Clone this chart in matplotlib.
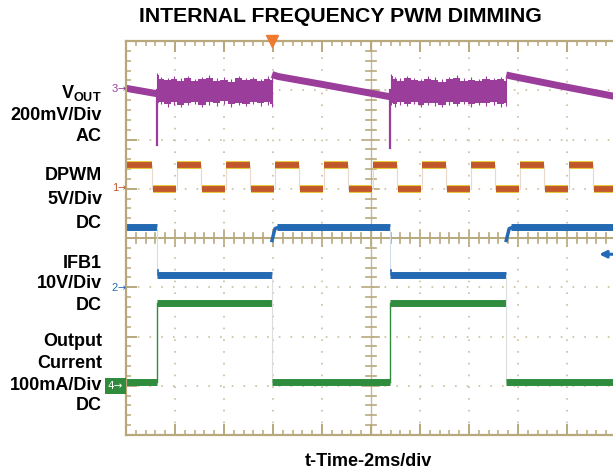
import matplotlib.pyplot as plt

plt.rcParams['font.family'] = ['Liberation Sans', 'DejaVu Sans']
plt.rcParams['mathtext.fontset'] = 'custom'
plt.rcParams['mathtext.rm'] = 'Liberation Sans'
plt.rcParams['mathtext.bf'] = 'Liberation Sans:bold'

# all values in scope divisions (x: 2 ms/div, y: channel div)
# VOUT (ch3), tail of previous decay, noisy on-bands, decays
vout_pre_x = [0.0, 0.63]
vout_pre_y = [3.04, 2.93]
vout_band1_x = [0.64, 0.72, 0.85, 0.98, 1.12, 1.26, 1.40, 1.55, 1.70, 1.85, 2.00, 2.15, 2.30, 2.45, 2.60, 2.75, 2.90, 2.98]
vout_band1_top = [3.30, 3.22, 3.20, 3.23, 3.19, 3.24, 3.18, 3.22, 3.25, 3.19, 3.21, 3.17, 3.24, 3.20, 3.22, 3.18, 3.23, 3.21]
vout_band1_bot = [2.74, 2.77, 2.72, 2.76, 2.70, 2.75, 2.77, 2.71, 2.76, 2.74, 2.78, 2.72, 2.75, 2.73, 2.77, 2.74, 2.76, 2.72]
vout_dip1 = [0.63, 1.88]
vout_decay1_x = [2.98, 3.10, 4.00, 5.38]
vout_decay1_y = [3.32, 3.28, 3.12, 2.87]
vout_band2_x = [5.40, 5.48, 5.60, 5.74, 5.88, 6.02, 6.16, 6.30, 6.45, 6.60, 6.75, 6.90, 7.05, 7.20, 7.35, 7.50, 7.65, 7.76]
vout_band2_top = [3.28, 3.22, 3.19, 3.24, 3.20, 3.18, 3.23, 3.21, 3.17, 3.22, 3.25, 3.19, 3.21, 3.18, 3.23, 3.20, 3.22, 3.19]
vout_band2_bot = [2.75, 2.72, 2.76, 2.73, 2.77, 2.71, 2.75, 2.74, 2.70, 2.76, 2.73, 2.77, 2.72, 2.75, 2.74, 2.76, 2.72, 2.74]
vout_dip2 = [5.39, 1.83]
vout_decay2_x = [7.76, 7.90, 8.80, 10.0]
vout_decay2_y = [3.31, 3.28, 3.10, 2.87]

# DPWM (ch1), edge times and levels
dpwm_t = [0.0, 0.54, 1.04, 1.54, 2.04, 2.54, 3.04, 3.54, 4.04, 4.54, 5.04,
          5.54, 6.04, 6.54, 7.04, 7.54, 8.04, 8.54, 9.04, 9.54, 10.0]
dpwm_high = 1.48
dpwm_low = 1.0

# IFB1 (ch2) and output current (ch4), switching instants
pulse_on = [0.63, 5.39]
pulse_off = [2.98, 7.76]
ifb_high = 0.22
ifb_low = -0.76
ifb_ramp = [-0.05, 0.22]
iout_high = -1.32
iout_low = -2.93

purple = '#9b3d9a'
orange = '#c1582b'
yellow = '#e8c22c'
blue = '#2469b3'
green = '#2e8c3c'
tan = '#b8a87c'
dot = '#c9bf9c'

fig = plt.figure(figsize=(6.13, 4.71), dpi=100)
ax = fig.add_axes([126 / 613, 36 / 471, 490 / 613, 394 / 471])
ax.set_xlim(0, 10)
ax.set_ylim(-4, 4)

# graticule
for s in ['left', 'top', 'bottom']:
    ax.spines[s].set_color(tan)
    ax.spines[s].set_linewidth(1.6)
ax.spines['right'].set_visible(False)
ax.xaxis.set_ticks_position('both')
ax.set_xticks(range(11))
ax.set_xticks([i * 0.2 for i in range(51)], minor=True)
ax.set_yticks(range(-4, 5))
ax.set_yticks([i * 0.2 - 4 for i in range(41)], minor=True)
ax.tick_params(which='major', direction='in', length=8, width=1.4, color=tan,
               labelbottom=False, labelleft=False)
ax.tick_params(which='minor', direction='in', length=3.6, width=1.1, color=tan)
for gx in range(1, 10):
    if gx != 5:
        ax.axvline(gx, color=dot, lw=1.2, ls=(0, (1, 6.05)), zorder=0)
for gy in range(-3, 4):
    if gy != 0:
        ax.axhline(gy, color=dot, lw=1.2, ls=(0, (1, 6.05)), zorder=0)
ax.axhline(0, color=tan, lw=1.4, zorder=0)
ax.axvline(5, color=tan, lw=1.0, alpha=0.8, zorder=0)
for i in range(51):
    h = 0.16 if i % 5 == 0 else 0.1
    ax.plot([i * 0.2, i * 0.2], [-h, h], color=tan, lw=1.2, zorder=0)
for i in range(41):
    h = 0.16 if i % 5 == 0 else 0.1
    ax.plot([5 - h, 5 + h], [i * 0.2 - 4, i * 0.2 - 4], color=tan, lw=1.2, zorder=0)

# VOUT
ax.plot(vout_pre_x, vout_pre_y, color=purple, lw=5, solid_capstyle='butt')
for bx, bt, bb, dip in [(vout_band1_x, vout_band1_top, vout_band1_bot, vout_dip1),
                        (vout_band2_x, vout_band2_top, vout_band2_bot, vout_dip2)]:
    ax.fill_between(bx, bb, bt, color=purple, lw=0, step='mid')
    ax.vlines(bx, [b - 0.05 for b in bb], [t + 0.05 for t in bt], color=purple, lw=0.8)
    ax.plot([dip[0], dip[0]], [3.0, dip[1]], color=purple, lw=1.6)
ax.plot(vout_decay1_x, vout_decay1_y, color=purple, lw=5, solid_capstyle='butt')
ax.plot(vout_decay2_x, vout_decay2_y, color=purple, lw=5, solid_capstyle='butt')

# DPWM
levels = [dpwm_high if i % 2 == 0 else dpwm_low for i in range(len(dpwm_t))]
ax.step(dpwm_t, levels, where='post', color='#e9d8cc', lw=0.8)
for i in range(len(dpwm_t) - 1):
    seg = [dpwm_t[i] + 0.01, dpwm_t[i + 1] - 0.01]
    ax.plot(seg, [levels[i]] * 2, color=yellow, lw=5.6, solid_capstyle='butt')
    ax.plot(seg, [levels[i]] * 2, color=orange, lw=4.2, solid_capstyle='butt')

# IFB1 and output current
edges = [0.0] + [e for pair in zip(pulse_on, pulse_off) for e in pair] + [10.0]
for i in range(len(edges) - 1):
    on = i % 2 == 1
    x0, x1 = edges[i], edges[i + 1]
    if on:
        ax.plot([x0, x1], [ifb_low] * 2, color=blue, lw=5, solid_capstyle='butt')
        ax.plot([x0, x1], [iout_high] * 2, color=green, lw=5, solid_capstyle='butt')
        ax.plot([x0, x0], [iout_low, iout_high], color=green, lw=1)
        ax.plot([x0, x0], [ifb_low, ifb_high], color='#d6dde8', lw=0.8)
        ax.plot([x0 + 0.02, x0 + 0.02], [ifb_low, ifb_low + 0.12], color=blue, lw=1.2)
    else:
        if x0 > 0:
            ax.plot([x0, x0 + 0.06, x0 + 0.14], [ifb_ramp[0], ifb_ramp[1] - 0.03, ifb_ramp[1]],
                    color=blue, lw=2.5)
            ax.plot([x0, x0], [iout_low, ifb_low], color='#dcdcdc', lw=0.8)
            x0 += 0.1
        ax.plot([x0, x1], [ifb_high] * 2, color=blue, lw=5, solid_capstyle='butt')
        ax.plot([edges[i], x1], [iout_low] * 2, color=green, lw=5, solid_capstyle='butt')

# trigger markers
ax.plot(pulse_off[0], 4, marker='v', color='#f07a30', ms=8, clip_on=False, zorder=5)
ax.annotate('', xy=(9.6, -0.33), xytext=(10.0, -0.33),
            arrowprops=dict(arrowstyle='-|>', color=blue, lw=2.2, mutation_scale=10))


def px(x, y):
    return x / 613, 1 - y / 471


# channel markers
fig.text(*px(118, 89), '3', color=purple, fontsize=8, ha='right', va='center')
fig.text(*px(126, 89), '\u2192', color=purple, fontsize=7, ha='right', va='center',
         family='DejaVu Sans')
fig.text(*px(118, 188), '1', color=orange, fontsize=8, ha='right', va='center')
fig.text(*px(126, 188), '\u2192', color=orange, fontsize=7, ha='right', va='center',
         family='DejaVu Sans')
fig.text(*px(118, 288), '2', color=blue, fontsize=8, ha='right', va='center')
fig.text(*px(126, 288), '\u2192', color=blue, fontsize=7, ha='right', va='center',
         family='DejaVu Sans')
fig.text(*px(123, 386), '4\u2192', color='white', fontsize=7.5, ha='right', va='center',
         family='DejaVu Sans',
         bbox=dict(boxstyle='square,pad=0.25', fc=green, ec='none'))

# channel labels
labels = [(93, r'$\mathbf{V}_{\mathbf{OUT}}$'), (115, '200mV/Div'), (137, 'AC'),
          (176, 'DPWM'), (199, '5V/Div'), (223, 'DC'),
          (263, 'IFB1'), (284, '10V/Div'), (305, 'DC'),
          (342, 'Output'), (363, 'Current'), (385, '100mA/Div'), (406, 'DC')]
for y, s in labels:
    fig.text(*px(102, y), s, fontsize=13, fontweight='bold', ha='right', va='center')

fig.text(*px(340, 17), 'INTERNAL FREQUENCY PWM DIMMING', fontsize=15.3,
         fontweight='bold', ha='center', va='center')
fig.text(*px(368, 461), 't-Time-2ms/div', fontsize=13, fontweight='bold',
         ha='center', va='center')

fig.savefig('out.png', dpi=100)
